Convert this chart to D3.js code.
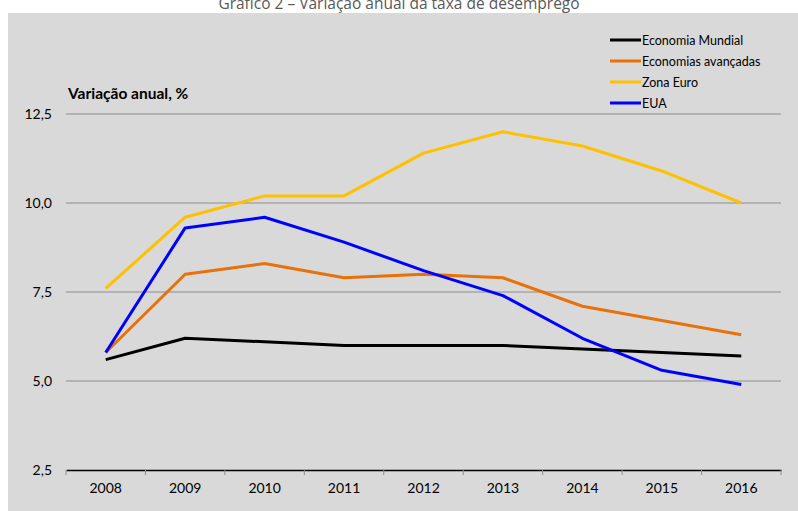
<!DOCTYPE html>
<html>
<head>
<meta charset="utf-8">
<script src="https://cdn.jsdelivr.net/npm/d3@7"></script>
<style>
  body { margin: 0; background: #fff; }
  text { font-family: Lato, "Open Sans", sans-serif; }
</style>
</head>
<body>
<div id="chart"></div>
<script>
var width = 798, height = 511;

// data
var years = ["2008", "2009", "2010", "2011", "2012", "2013", "2014", "2015", "2016"];
var mundial = [5.6, 6.2, 6.1, 6.0, 6.0, 6.0, 5.9, 5.8, 5.7];
var avancadas = [5.8, 8.0, 8.3, 7.9, 8.0, 7.9, 7.1, 6.7, 6.3];
var zonaEuro = [7.6, 9.6, 10.2, 10.2, 11.4, 12.0, 11.6, 10.9, 10.0];
var eua = [5.8, 9.3, 9.6, 8.9, 8.1, 7.4, 6.2, 5.3, 4.9];
var yTicks = [2.5, 5.0, 7.5, 10.0, 12.5];
var seriesNames = ["Economia Mundial", "Economias avançadas", "Zona Euro", "EUA"];
var seriesColors = ["#000000", "#e8710a", "#ffc000", "#0000ff"];

var series = [mundial, avancadas, zonaEuro, eua].map(function(v, i) {
  return { name: seriesNames[i], color: seriesColors[i], values: v };
});

var svg = d3.select("#chart")
  .append("svg")
  .attr("width", width)
  .attr("height", height);

// gray panel
svg.append("rect")
  .attr("x", 8).attr("y", 13)
  .attr("width", width - 8).attr("height", height - 13)
  .attr("fill", "#d9d9d9");

// title, sitting right at the top edge like the source
svg.append("text")
  .attr("x", 399).attr("y", 9)
  .attr("text-anchor", "middle")
  .attr("font-size", 15.5)
  .attr("fill", "#595959")
  .style("font-family", "'Open Sans', sans-serif")
  .text("Gráfico 2 – Variação anual da taxa de desemprego");

var x = d3.scaleBand().domain(years).range([66, 781]);
var y = d3.scaleLinear().domain([2.5, 12.5]).range([470, 114]);

// gridlines
svg.append("g")
  .selectAll("line")
  .data(yTicks.slice(1))
  .enter()
  .append("line")
  .attr("x1", 66).attr("x2", 781)
  .attr("y1", function(d) { return y(d); })
  .attr("y2", function(d) { return y(d); })
  .attr("stroke", "#8c8c8c")
  .attr("stroke-width", 1);

// y labels
svg.append("g")
  .selectAll("text")
  .data(yTicks)
  .enter()
  .append("text")
  .attr("x", 52)
  .attr("y", function(d) { return y(d) + 5; })
  .attr("text-anchor", "end")
  .attr("font-size", 14)
  .attr("fill", "#000")
  .text(function(d) { return d3.format(".1f")(d).replace(".", ","); });

// x axis
var xAxis = d3.axisBottom(x).tickSize(0).tickPadding(13);
var gx = svg.append("g")
  .attr("transform", "translate(0," + y(2.5) + ")")
  .call(xAxis);
gx.select(".domain").attr("stroke", "#000").attr("stroke-width", 1.5);
gx.selectAll("text").attr("font-size", 14).attr("fill", "#000")
  .style("font-family", "Lato, sans-serif");

// tick marks between categories
var bounds = years.map(function(d) { return x(d); }).concat([x.range()[1]]);
gx.selectAll(".sep")
  .data(bounds)
  .enter()
  .append("line")
  .attr("x1", function(d) { return d; })
  .attr("x2", function(d) { return d; })
  .attr("y1", 0).attr("y2", 5)
  .attr("stroke", "#8c8c8c");

// axis caption
svg.append("text")
  .attr("x", 68).attr("y", 99)
  .attr("font-size", 15.5)
  .attr("font-weight", "bold")
  .attr("fill", "#000")
  .text("Variação anual, %");

// lines
var line = d3.line()
  .x(function(d, i) { return x(years[i]) + x.bandwidth() / 2; })
  .y(function(d) { return y(d); });

svg.append("g")
  .selectAll("path")
  .data(series)
  .enter()
  .append("path")
  .attr("d", function(d) { return line(d.values); })
  .attr("fill", "none")
  .attr("stroke", function(d) { return d.color; })
  .attr("stroke-width", 3)
  .attr("stroke-linejoin", "round");

// legend
var legend = svg.append("g")
  .selectAll("g")
  .data(series)
  .enter()
  .append("g")
  .attr("transform", function(d, i) { return "translate(610," + (40 + i * 21) + ")"; });

legend.append("line")
  .attr("x1", 0).attr("x2", 31)
  .attr("stroke", function(d) { return d.color; })
  .attr("stroke-width", 3);

legend.append("text")
  .attr("x", 32).attr("y", 4.5)
  .attr("font-size", 12.5)
  .attr("fill", "#000")
  .text(function(d) { return d.name; });
</script>
</body>
</html>
